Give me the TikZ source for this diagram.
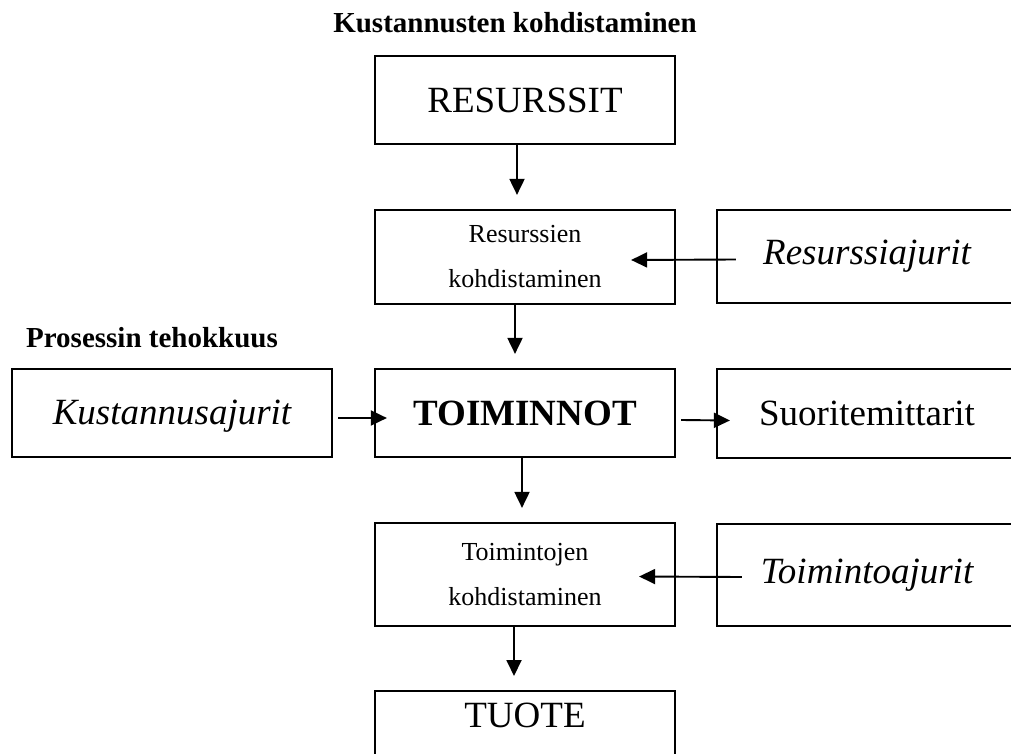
\documentclass[tikz,border=0pt]{standalone}
\usepackage{fontspec}
\setmainfont{Liberation Serif}
\usetikzlibrary{arrows.meta}
\begin{document}
\begin{tikzpicture}[x=1pt,y=-1pt]
	\tikzset{s/.style={draw,line width=2.2pt,rectangle,minimum width=300pt,inner sep=0pt},
		iso/.style={font=\fontsize{37}{44}\selectfont},
		pieni/.style={font=\fontsize{26}{45}\selectfont,align=center},
		otsake/.style={font=\bfseries\fontsize{29}{35}\selectfont,anchor=base},
		ar/.style={line width=1.9pt,-{Triangle[length=16pt,width=15pt]}}}
	\useasboundingbox(0,0)rectangle(1011,754);
	\node[otsake](K) at (515,33){Kustannusten kohdistaminen};
	\node[otsake](P) at (152,347){Prosessin tehokkuus};
	% keskimmainen sarake
	\node[s,iso,minimum height=88pt](R) at (525,100){RESURSSIT};
	\node[s,pieni,minimum height=94pt](Rk) at (525,257){Resurssien\\kohdistaminen};
	\node[s,iso,minimum height=88pt,font=\bfseries\fontsize{37}{44}\selectfont](T) at (525,413){TOIMINNOT};
	\node[s,pieni,minimum height=103pt](Tk) at (525,574.5){Toimintojen\\kohdistaminen};
	\node[s,iso,anchor=north,inner ysep=12pt,text depth=80pt](Tu) at (525,690){TUOTE};
	% sivulaatikot
	\node[s,iso,minimum height=93pt,font=\itshape\fontsize{37}{44}\selectfont](Ra) at (867,256.5){Resurssiajurit};
	\node[s,iso,minimum height=88pt,minimum width=320pt,text depth=2pt,font=\itshape\fontsize{37}{44}\selectfont](Ka) at (172,413){Kustannusajurit};
	\node[s,iso,minimum height=89pt](Sm) at (867,413.5){Suoritemittarit};
	\node[s,iso,minimum height=102pt,font=\itshape\fontsize{37}{44}\selectfont](Ta) at (867,575){Toimintoajurit};
	% nuolet
	\foreach \x/\y/\d in {R/Rk/-8,Rk/T/-10,T/Tk/-3,Tk/Tu/-11}
	\draw[ar,shorten >=14pt]([xshift=\d pt]\x.south)--([xshift=\d pt]\y.north);
	\draw[ar]([xshift=20pt,yshift=-3pt]Ra.west)--([xshift=-45pt,yshift=-3pt]Rk.east);
	\draw[ar]([xshift=5pt,yshift=-5pt]Ka.east)--([xshift=13pt,yshift=-5pt]T.west);
	\draw[ar]([xshift=5pt,yshift=-7pt]T.east)--([xshift=14pt,yshift=-7pt]Sm.west);
	\draw[ar]([xshift=26pt,yshift=-2pt]Ta.west)--([xshift=-37pt,yshift=-2pt]Tk.east);
\end{tikzpicture}
\end{document}
